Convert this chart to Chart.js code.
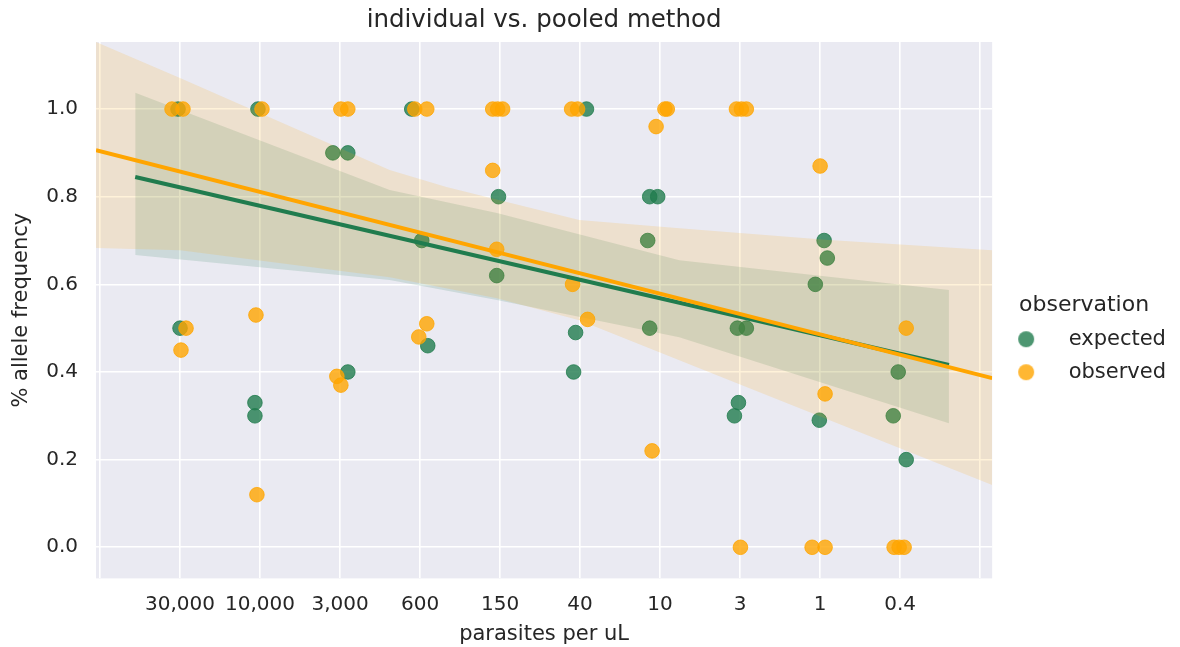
<!DOCTYPE html>
<html><head><meta charset="utf-8">
<script src="https://cdn.jsdelivr.net/npm/chart.js@4.4.1/dist/chart.umd.min.js"></script>
<style>html,body{margin:0;padding:0;background:#fff;} canvas{display:block;}</style>
</head><body>
<canvas id="c" width="1180" height="647"></canvas>
<script>
// ---- data ----
const xTickLabels = ['30,000', '10,000', '3,000', '600', '150', '40', '10', '3', '1', '0.4'];
const xTickValues = [0, 1, 2, 3, 4, 5, 6, 7, 8, 9, 10, 11];
const yTickValues = [0, 0.2, 0.4, 0.6, 0.8, 1.0];

// expected (jittered category positions, allele frequency)
const expectedX = [0.975, 1.0, 1.974, 1.936, 1.936, 2.91, 3.097, 3.097, 3.896, 4.021, 4.096, 4.98, 4.958,
  6.08, 5.944, 5.919, 6.87, 6.97, 6.845, 6.87, 7.966, 8.078, 7.979, 7.929, 9.05, 9.09, 8.94, 8.99, 9.976, 9.914, 10.076];
const expectedY = [1.0, 0.5, 1.0, 0.33, 0.30, 0.9, 0.9, 0.40, 1.0, 0.70, 0.46, 0.80, 0.62,
  1.0, 0.49, 0.40, 0.80, 0.80, 0.70, 0.50, 0.5, 0.5, 0.33, 0.30, 0.70, 0.66, 0.60, 0.29, 0.40, 0.30, 0.20];

// observed
const observedX = [0.9, 1.037, 1.075, 1.012, 2.024, 1.949, 1.961, 3.01, 3.097, 2.96, 3.01, 3.934, 4.084, 4.084, 3.984,
  4.908, 4.97, 5.032, 4.908, 4.958, 5.894, 5.969, 5.906, 6.094, 7.06, 7.09, 6.95, 6.9,
  7.954, 8.016, 8.078, 8.004, 9.0, 9.062, 8.9, 9.062, 10.076, 9.925, 9.988, 10.05];
const observedY = [1.0, 1.0, 0.5, 0.45, 1.0, 0.53, 0.12, 1.0, 1.0, 0.39, 0.37, 1.0, 1.0, 0.51, 0.48,
  1.0, 1.0, 1.0, 0.86, 0.68, 1.0, 1.0, 0.60, 0.52, 1.0, 1.0, 0.96, 0.22,
  1.0, 1.0, 1.0, 0.0, 0.87, 0.35, 0.0, 0.0, 0.50, 0.0, 0.0, 0.0];

// regression lines
const expectedFitX = [0.44, 10.61];
const expectedFitY = [0.845, 0.416];
const observedFitX = [-0.05, 11.15];
const observedFitY = [0.906, 0.386];

// confidence bands
const expectedUpperX = [0.44, 3.62, 4.96, 7.24, 10.61];
const expectedUpperY = [1.037, 0.815, 0.763, 0.655, 0.587];
const expectedLowerX = [0.44, 3.62, 4.96, 7.24, 10.61];
const expectedLowerY = [0.667, 0.610, 0.564, 0.479, 0.283];
const observedUpperX = [-0.05, 1.0, 3.62, 4.33, 5.99, 7.24, 9.11, 11.15];
const observedUpperY = [1.153, 1.071, 0.861, 0.822, 0.747, 0.728, 0.701, 0.678];
const observedLowerX = [-0.05, 1.0, 3.62, 4.96, 5.99, 7.24, 11.15];
const observedLowerY = [0.683, 0.678, 0.616, 0.568, 0.518, 0.427, 0.142];

// ---- styling ----
const GREEN = '#207c4e';
const GREEN_PT = 'rgba(32,124,78,0.8)';
const GREEN_BAND = 'rgba(32,124,78,0.15)';
const ORANGE = '#ffa500';
const ORANGE_PT = 'rgba(255,165,0,0.8)';
const ORANGE_BAND = 'rgba(255,165,0,0.15)';
const TEXT = '#262626';
const FONT = "'DejaVu Sans', sans-serif";

const pts = (xs, ys) => xs.map((x, i) => ({x: x, y: ys[i]}));

function markerImage(color) {
  const cv = document.createElement('canvas');
  cv.width = 54; cv.height = 20;
  const g = cv.getContext('2d');
  g.fillStyle = color;
  g.beginPath(); g.arc(22, 10, 8, 0, Math.PI * 2); g.fill();
  return cv;
}
const markers = {0: markerImage(GREEN_PT), 3: markerImage(ORANGE_PT)};

Chart.defaults.font.family = FONT;
Chart.defaults.color = TEXT;

const bgPlugin = {
  id: 'bg',
  beforeDraw(chart) {
    const {ctx, chartArea: a} = chart;
    ctx.save();
    ctx.fillStyle = '#ffffff';
    ctx.fillRect(0, 0, chart.width, chart.height);
    ctx.fillStyle = '#eaeaf2';
    ctx.fillRect(a.left, a.top, a.right - a.left, a.bottom - a.top);
    ctx.restore();
  }
};

const bandLine = (data, color, fill, order) => ({
  type: 'line', data: data, borderWidth: 0, borderColor: 'rgba(0,0,0,0)',
  backgroundColor: color, fill: fill, pointRadius: 0, pointHoverRadius: 0, tension: 0, order: order
});

new Chart(document.getElementById('c'), {
  type: 'scatter',
  data: {
    datasets: [
      {label: 'expected', type: 'scatter', data: pts(expectedX, expectedY), backgroundColor: GREEN_PT,
        borderColor: GREEN_PT, borderWidth: 1, pointRadius: 7.3, pointHoverRadius: 7.3, order: 6},
      bandLine(pts(expectedUpperX, expectedUpperY), GREEN_BAND, '+1', 5),
      bandLine(pts(expectedLowerX, expectedLowerY), GREEN_BAND, false, 5),
      {label: 'observed', type: 'scatter', data: pts(observedX, observedY), backgroundColor: ORANGE_PT,
        borderColor: ORANGE_PT, borderWidth: 1, pointRadius: 7.3, pointHoverRadius: 7.3, order: 4},
      bandLine(pts(observedUpperX, observedUpperY), ORANGE_BAND, '+1', 3),
      bandLine(pts(observedLowerX, observedLowerY), ORANGE_BAND, false, 3),
      {label: 'expected fit', type: 'line', data: pts(expectedFitX, expectedFitY), borderColor: GREEN,
        borderWidth: 4, pointRadius: 0, fill: false, order: 2},
      {label: 'observed fit', type: 'line', data: pts(observedFitX, observedFitY), borderColor: ORANGE,
        borderWidth: 4, pointRadius: 0, fill: false, order: 1}
    ]
  },
  options: {
    responsive: false,
    animation: false,
    devicePixelRatio: 1,
    events: [],
    layout: {padding: {left: 0, right: 4, top: 0, bottom: 0}},
    plugins: {
      tooltip: {enabled: false},
      title: {
        display: true, text: 'individual vs. pooled method', fullSize: false, color: TEXT,
        font: {family: FONT, size: 24.5, weight: 'normal'}, padding: {top: 6.3, bottom: 6.3}
      },
      legend: {
        display: true, position: 'right', fullSize: false, align: 'center',
        title: {display: true, text: 'observation', color: TEXT,
          font: {family: FONT, size: 22, lineHeight: 1}, padding: {top: 68.5, bottom: 0.5}},
        labels: {
          color: TEXT, font: {family: FONT, size: 21}, usePointStyle: true, pointStyleWidth: 54, padding: 12,
          generateLabels(chart) {
            const items = Chart.defaults.plugins.legend.labels.generateLabels(chart);
            return items.filter(it => markers[it.datasetIndex])
              .sort((a, b) => a.datasetIndex - b.datasetIndex)
              .map(it => Object.assign(it, {pointStyle: markers[it.datasetIndex], fontColor: TEXT}));
          }
        }
      }
    },
    scales: {
      x: {
        type: 'linear', min: -0.05, max: 11.15,
        afterBuildTicks: s => { s.ticks = xTickValues.map(v => ({value: v})); },
        ticks: {
          autoSkip: false, maxRotation: 0, padding: 14, color: TEXT, font: {family: FONT, size: 20},
          callback: v => { const i = Math.round(v) - 1; return (i >= 0 && i < xTickLabels.length) ? xTickLabels[i] : ''; }
        },
        grid: {color: '#ffffff', lineWidth: 1.6, drawTicks: false},
        border: {display: false},
        title: {display: true, text: 'parasites per uL', color: TEXT, font: {family: FONT, size: 21},
          padding: {top: -8.6, bottom: 0}}
      },
      y: {
        type: 'linear', min: -0.071, max: 1.153,
        afterBuildTicks: s => { s.ticks = yTickValues.map(v => ({value: v})); },
        ticks: {padding: 18, color: TEXT, font: {family: FONT, size: 20}, callback: v => Number(v).toFixed(1)},
        grid: {color: '#ffffff', lineWidth: 1.6, drawTicks: false},
        border: {display: false},
        title: {display: true, text: '% allele frequency', color: TEXT, font: {family: FONT, size: 21},
          padding: {top: 9.4, bottom: -6.4}}
      }
    }
  },
  plugins: [bgPlugin]
});
</script>
</body></html>
